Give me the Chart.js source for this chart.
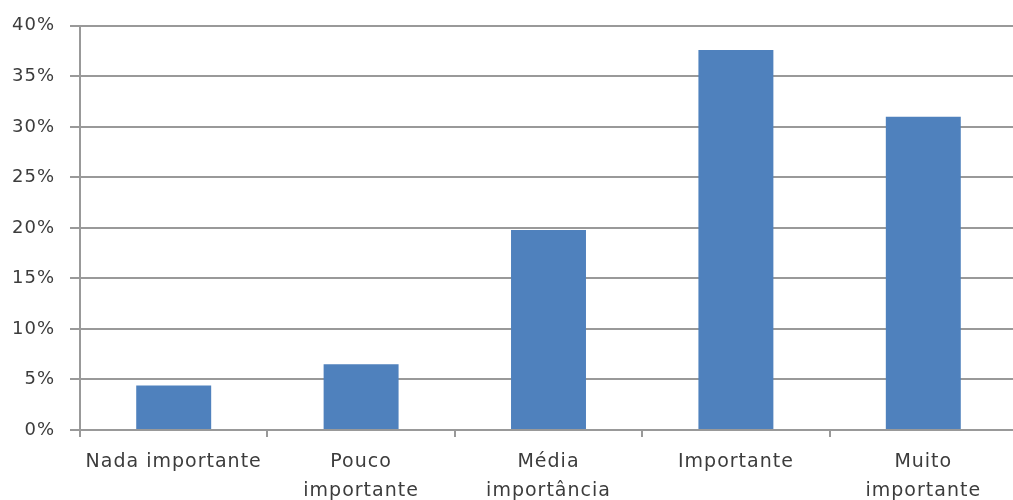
<!DOCTYPE html>
<html>
<head>
<meta charset="utf-8">
<script src="https://cdn.jsdelivr.net/npm/chart.js@4"></script>
<style>
  html, body { margin: 0; padding: 0; background: #ffffff; overflow: hidden; }
  #wrap { width: 1020px; height: 500px; position: relative; }
</style>
</head>
<body>
<div id="wrap"><canvas id="c"></canvas></div>
<script>
// Grau de importância atribuído (percentagem de respostas)
const categories = [
  'Nada importante',
  ['Pouco', 'importante'],
  ['Média', 'importância'],
  'Importante',
  ['Muito', 'importante']
];
const percentages = [4.4, 6.5, 19.8, 37.6, 31.0];
const yTicks = [0, 5, 10, 15, 20, 25, 30, 35, 40];

const gridColor = '#999999';
const textColor = '#3c3c3c';

// Slightly wider glyph spacing for all canvas text
const spacingPlugin = {
  id: 'letterSpacing',
  beforeInit(chart) { chart.ctx.letterSpacing = '1px'; },
  beforeLayout(chart) { chart.ctx.letterSpacing = '1px'; },
  beforeDraw(chart) { chart.ctx.letterSpacing = '1px'; }
};

new Chart(document.getElementById('c'), {
  type: 'bar',
  data: {
    labels: categories,
    datasets: [{
      data: percentages,
      backgroundColor: '#4f81bd',
      borderWidth: 0,
      categoryPercentage: 1.0,
      barPercentage: 0.4
    }]
  },
  options: {
    responsive: true,
    maintainAspectRatio: false,
    animation: false,
    layout: { padding: { top: 25, right: 3, left: 0, bottom: 0 } },
    plugins: {
      legend: { display: false },
      tooltip: { enabled: false }
    },
    scales: {
      x: {
        offset: true,
        grid: {
          offset: true,
          drawOnChartArea: false,
          drawTicks: true,
          tickLength: 7,
          color: gridColor,
          lineWidth: 2
        },
        border: { display: true, color: gridColor, width: 2 },
        ticks: {
          color: textColor,
          font: { family: 'DejaVu Sans', size: 19, lineHeight: 1.5 },
          padding: 11,
          maxRotation: 0,
          autoSkip: false
        },
        afterFit(scale) { scale.height = 70; }
      },
      y: {
        min: 0,
        max: 40,
        afterBuildTicks(scale) { scale.ticks = yTicks.map(v => ({ value: v })); },
        grid: {
          color: gridColor,
          lineWidth: 2,
          drawTicks: true,
          tickLength: 10
        },
        border: { display: true, color: gridColor, width: 2 },
        ticks: {
          color: textColor,
          font: { family: 'DejaVu Sans', size: 18 },
          padding: 15,
          callback: v => v + '%'
        },
        afterFit(scale) { scale.width = 80; }
      }
    }
  },
  plugins: [spacingPlugin]
});
</script>
</body>
</html>
